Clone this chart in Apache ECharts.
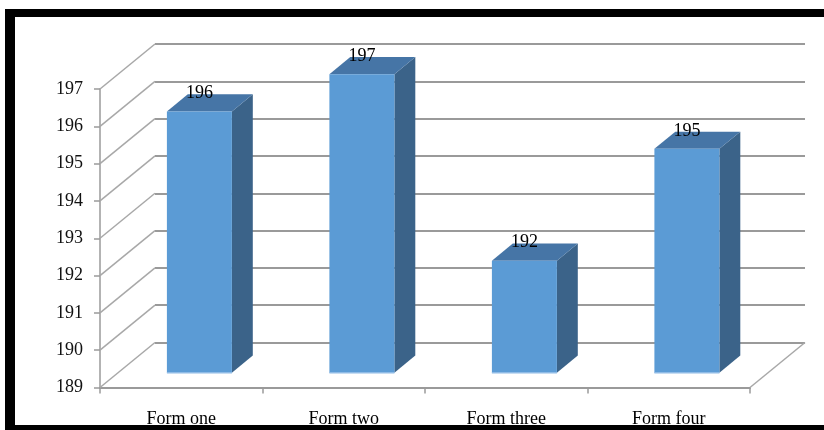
<!DOCTYPE html>
<html>
<head>
<meta charset="utf-8">
<script src="https://cdn.jsdelivr.net/npm/echarts@6/dist/echarts.min.js"></script>
<style>
  html, body { margin: 0; padding: 0; background: #fff; }
  #chart { width: 824px; height: 430px; }
</style>
</head>
<body>
<div id="chart"></div>
<script>
// Chart data
const categories = ['Form one', 'Form two', 'Form three', 'Form four'];
const values = [196, 197, 192, 195];
const yTicks = [189, 190, 191, 192, 193, 194, 195, 196, 197];

const yMin = yTicks[0];
const yMax = yTicks[yTicks.length - 1];

// Perspective offset from the front plane to the back wall
const DX = 55;
const DY = -45;
// Bars sit between these depth fractions
const F1 = 0.33;
const F2 = 0.71;
const BAR_FRACTION = 0.4;

const FONT = '"Liberation Serif", "Times New Roman", serif';
const GRID_COLOR = '#9a9a9a';
const WALL_COLOR = '#a8a8a8';

const chart = echarts.init(document.getElementById('chart'), null, { renderer: 'canvas' });

function renderWall(params, api) {
  const v = api.value(1);
  const p = api.coord([0, v]);
  const cs = params.coordSys;
  const x0 = cs.x;
  const children = [{
    type: 'line',
    shape: { x1: x0, y1: p[1], x2: x0 + DX, y2: p[1] + DY },
    style: { stroke: WALL_COLOR, lineWidth: 1.5 }
  }];
  if (v === yMin) {
    const xr = cs.x + cs.width;
    children.push({
      type: 'line',
      shape: { x1: xr, y1: p[1], x2: xr + DX, y2: p[1] + DY },
      style: { stroke: WALL_COLOR, lineWidth: 1.5 }
    });
  }
  return { type: 'group', children: children };
}

function renderBar(params, api) {
  const idx = api.value(0);
  const val = api.value(1);
  const top = api.coord([idx, val]);
  const base = api.coord([idx, yMin]);
  const bw = api.size([1, 0])[0] * BAR_FRACTION;
  const x0 = top[0] - bw / 2 + F1 * DX;
  const x1 = x0 + bw;
  const yt = top[1] + F1 * DY;
  const yb = base[1] + F1 * DY;
  const ddx = (F2 - F1) * DX;
  const ddy = (F2 - F1) * DY;
  return {
    type: 'group',
    children: [
      {
        type: 'polygon',
        shape: { points: [[x1, yt], [x1 + ddx, yt + ddy], [x1 + ddx, yb + ddy], [x1, yb]] },
        style: { fill: '#3b6389' }
      },
      {
        type: 'polygon',
        shape: { points: [[x0, yt], [x1, yt], [x1 + ddx, yt + ddy], [x0 + ddx, yt + ddy]] },
        style: { fill: '#4675a6' }
      },
      {
        type: 'rect',
        shape: { x: x0, y: yt, width: bw, height: yb - yt },
        style: { fill: '#5b9bd5' }
      },
      {
        type: 'line',
        shape: { x1: x0, y1: yb, x2: x1, y2: yb },
        style: { stroke: '#8fbbe6', lineWidth: 1.5 }
      },
      {
        type: 'text',
        style: {
          text: String(val),
          x: (x0 + x1) / 2,
          y: yt - 18,
          align: 'center',
          verticalAlign: 'middle',
          font: '18px ' + FONT,
          fill: '#000'
        }
      }
    ]
  };
}

const option = {
  animation: false,
  backgroundColor: '#fff',
  grid: [
    { left: 100, right: 74, top: 89, bottom: 42.5 },
    { left: 155, right: 19, top: 44, bottom: 87.5 }
  ],
  xAxis: [
    {
      type: 'category',
      gridIndex: 0,
      data: categories,
      boundaryGap: true,
      axisLine: { show: true, lineStyle: { color: GRID_COLOR, width: 2 } },
      axisTick: { show: true, interval: 0, alignWithLabel: false, length: 6, lineStyle: { color: GRID_COLOR, width: 1.5 } },
      axisLabel: { interval: 0, margin: 23, color: '#000', fontFamily: FONT, fontSize: 18 },
      splitLine: { show: false }
    },
    { type: 'value', gridIndex: 1, show: false, min: 0, max: 1 }
  ],
  yAxis: [
    {
      type: 'value',
      gridIndex: 0,
      min: yMin,
      max: yMax,
      interval: 1,
      axisLine: { show: true, lineStyle: { color: GRID_COLOR, width: 1.5 } },
      axisTick: { show: true, length: 6, lineStyle: { color: GRID_COLOR, width: 1.5 } },
      axisLabel: { margin: 17, color: '#111', fontFamily: FONT, fontSize: 18 },
      splitLine: { show: false }
    },
    {
      type: 'value',
      gridIndex: 1,
      min: yMin,
      max: yMax,
      interval: 1,
      axisLine: { show: false },
      axisTick: { show: false },
      axisLabel: { show: false },
      splitLine: { show: true, lineStyle: { color: GRID_COLOR, width: 2 } }
    }
  ],
  series: [
    {
      type: 'custom',
      name: 'walls',
      xAxisIndex: 0,
      yAxisIndex: 0,
      clip: false,
      z: 1,
      renderItem: renderWall,
      data: yTicks.map(v => [0, v])
    },
    {
      type: 'custom',
      name: 'bars',
      xAxisIndex: 0,
      yAxisIndex: 0,
      clip: false,
      z: 5,
      renderItem: renderBar,
      data: values.map((v, i) => [i, v])
    }
  ],
  graphic: [
    // black frame
    { type: 'rect', z: 100, shape: { x: 5, y: 9, width: 819, height: 8 }, style: { fill: '#000' } },
    { type: 'rect', z: 100, shape: { x: 5, y: 9, width: 10, height: 421 }, style: { fill: '#000' } },
    { type: 'rect', z: 100, shape: { x: 5, y: 425, width: 819, height: 5 }, style: { fill: '#000' } }
  ]
};

chart.setOption(option);
</script>
</body>
</html>
